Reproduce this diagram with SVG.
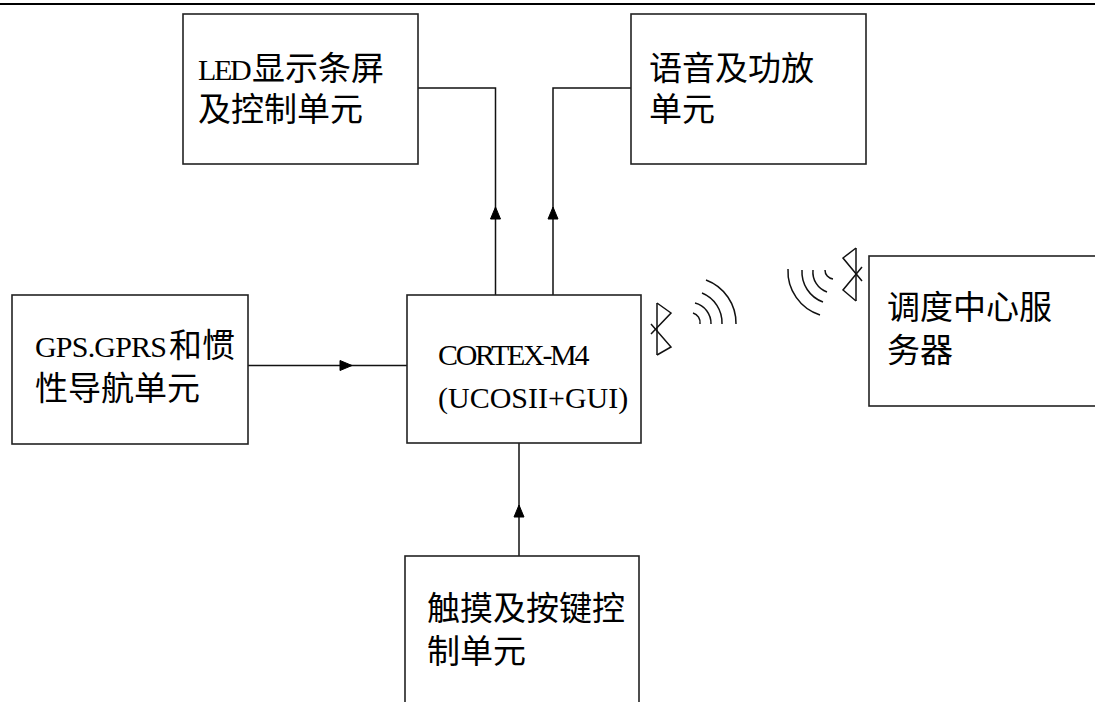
<svg xmlns="http://www.w3.org/2000/svg" width="1095" height="702" viewBox="0 0 1095 702">
<defs>
<style>
.box{fill:#fff;stroke:#222;stroke-width:1.6}
.ln{fill:none;stroke:#111;stroke-width:1.5}
.ah{fill:#000;stroke:#000;stroke-width:1;stroke-linejoin:round}
.t{font-family:"Liberation Serif","Noto Sans CJK SC",serif;font-size:33px;fill:#000}
.lat{font-family:"Liberation Serif",serif;font-size:30px;fill:#000}
</style>
</defs>
<rect width="1095" height="702" fill="#fff"/>
<line x1="0" y1="4" x2="1095" y2="4" stroke="#000" stroke-width="1.8"/>

<g id="connectors">
<polyline class="ln" points="418,88 495.5,88 495.5,295"/>
<polygon class="ah" points="495.5,207 490.5,219 500.5,219"/>
<polyline class="ln" points="631,88 553,88 553,295"/>
<polygon class="ah" points="553,207 548,219 558,219"/>
<line class="ln" x1="248" y1="365.5" x2="407" y2="365.5"/>
<polygon class="ah" points="352,365.5 340,360.5 340,370.5"/>
<line class="ln" x1="519" y1="556" x2="519" y2="443"/>
<polygon class="ah" points="519,505 514,517 524,517"/>
</g>

<g id="wireless-left" class="ln">
<polyline points="657,303 671,313 651,334"/>
<polyline points="657,355 671,347 651,324"/>
<line x1="657" y1="303" x2="657" y2="355"/>
<path d="M693,313 A10,10 0 0 1 700,324"/>
<path d="M695,303 A21,21 0 0 1 711,324"/>
<path d="M702,293 A32,32 0 0 1 722,324"/>
<path d="M706,280 A46,46 0 0 1 736,324"/>
</g>

<g id="wireless-right" class="ln">
<polyline points="856,248 843,258 862,281"/>
<polyline points="856,301 843,290 862,267"/>
<line x1="856" y1="248" x2="856" y2="301"/>
<path d="M825,270 A9,9 0 0 0 833,279"/>
<path d="M813,270 A21,21 0 0 0 827,292"/>
<path d="M802,270 A32,32 0 0 0 823,302"/>
<path d="M788,269 A46,46 0 0 0 820,315"/>
</g>

<g id="led">
<rect class="box" x="183" y="14" width="235" height="150"/>
<text class="lat" x="198" y="80" letter-spacing="-2.3">LED</text>
<text class="t" x="252" y="80">显示条屏</text>
<text class="t" x="198" y="121">及控制单元</text>
</g>

<g id="audio">
<rect class="box" x="631" y="14" width="235" height="150"/>
<text class="t" x="649" y="80">语音及功放</text>
<text class="t" x="649" y="121">单元</text>
</g>

<g id="gps">
<rect class="box" x="12" y="295" width="236" height="149"/>
<text class="lat" x="35" y="357" letter-spacing="-0.8">GPS.GPRS</text>
<text class="t" x="169" y="357">和惯</text>
<text class="t" x="35" y="400">性导航单元</text>
</g>

<g id="cortex">
<rect class="box" x="407" y="295" width="234" height="148"/>
<text class="lat" x="438" y="365" letter-spacing="-2.3">CORTEX-M4</text>
<text class="lat" x="438" y="408">(UCOSII+GUI)</text>
</g>

<g id="server">
<rect class="box" x="869" y="256" width="240" height="150"/>
<text class="t" x="887" y="319">调度中心服</text>
<text class="t" x="887" y="362">务器</text>
</g>

<g id="touch">
<rect class="box" x="405" y="556" width="234" height="160"/>
<text class="t" x="427" y="620">触摸及按键控</text>
<text class="t" x="427" y="663">制单元</text>
</g>
</svg>
